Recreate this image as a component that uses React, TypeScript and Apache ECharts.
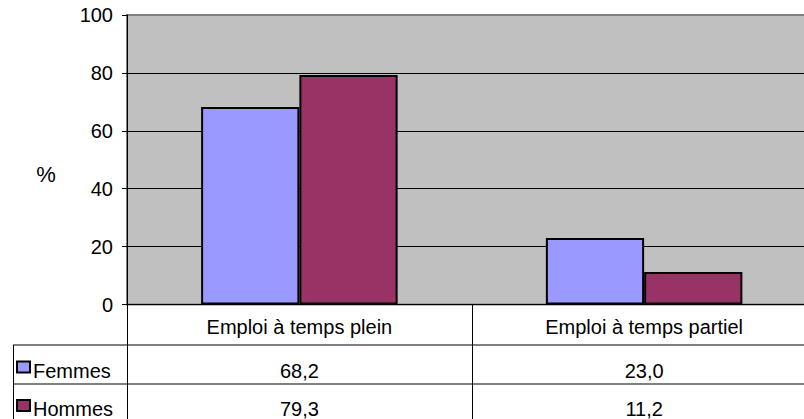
import React, { useEffect, useRef } from "react";
import * as echarts from "echarts";

const categories = ["Emploi à temps plein", "Emploi à temps partiel"];
const seriesNames = ["Femmes", "Hommes"];
const femmes = [68.2, 23.0];
const hommes = [79.3, 11.2];
const seriesColors = ["#9999ff", "#993366"];
const yTicks = { min: 0, max: 100, interval: 20 };
const yUnit = "%";

const FONT = "'Liberation Sans', Arial, sans-serif";
const FS = 20;
const fmt = (v: number) => v.toFixed(1).replace(".", ",");

export default function App() {
  const ref = useRef<HTMLDivElement>(null);
  useEffect(() => {
    document.body.style.margin = "0";
    document.body.style.overflow = "hidden";
    const chart = echarts.init(ref.current!, null, { renderer: "svg" });
    const gridLeft = 127;
    const gridTop = 15;
    const gridBottom = 304.5;
    const gridWidth = 689.5;
    const option: any = {
      animation: false,
      grid: {
        left: gridLeft,
        top: gridTop,
        width: gridWidth,
        height: gridBottom - gridTop,
        show: true,
        backgroundColor: "#c0c0c0",
        borderColor: "#808080",
        borderWidth: 2,
      },
      xAxis: {
        type: "category",
        data: categories,
        axisLine: { show: true, lineStyle: { color: "#000", width: 1 } },
        axisTick: { show: true, length: 115, lineStyle: { color: "#000", width: 1 } },
        axisLabel: { color: "#000", fontSize: FS, fontFamily: FONT, margin: 12 },
      },
      yAxis: {
        type: "value",
        min: yTicks.min,
        max: yTicks.max,
        interval: yTicks.interval,
        axisLine: { show: true, lineStyle: { color: "#000", width: 1 } },
        axisTick: { show: true, length: 5, lineStyle: { color: "#000" } },
        axisLabel: { color: "#000", fontSize: FS, fontFamily: FONT, margin: 14 },
        splitLine: {
          show: true,
          lineStyle: { color: ["#000", "#000", "#000", "#000", "#000", "#808080"], width: 1 },
        },
      },
      series: [
        {
          name: seriesNames[0],
          type: "bar",
          data: femmes,
          barGap: "0%",
          barCategoryGap: "43%",
          itemStyle: { color: seriesColors[0], borderColor: "#000", borderWidth: 2 },
        },
        {
          name: seriesNames[1],
          type: "bar",
          data: hommes,
          barGap: "0%",
          barCategoryGap: "43%",
          itemStyle: { color: seriesColors[1], borderColor: "#000", borderWidth: 2 },
        },
      ],
    };
    chart.setOption(option);

    const rowTops = [345, 384];
    const rowCenters = [370.5, 409];
    const squareCenters = [367, 405.5];
    const values = [femmes, hommes];
    const right = gridLeft + gridWidth;
    const elements: any[] = [
      {
        type: "text",
        x: 46,
        y: 174,
        style: { text: yUnit, font: `22px ${FONT}`, fill: "#000", align: "center", verticalAlign: "middle" },
      },
      { type: "line", shape: { x1: 13, y1: rowTops[0], x2: right, y2: rowTops[0] }, style: { stroke: "#000", lineWidth: 1 } },
      { type: "line", shape: { x1: 13, y1: rowTops[1], x2: right, y2: rowTops[1] }, style: { stroke: "#808080", lineWidth: 2 } },
      { type: "line", shape: { x1: 13.5, y1: rowTops[0], x2: 13.5, y2: 419 }, style: { stroke: "#000", lineWidth: 1 } },
    ];
    seriesNames.forEach((name, r) => {
      elements.push({
        type: "rect",
        shape: { x: 17, y: squareCenters[r] - 5.5, width: 13, height: 11 },
        style: { fill: seriesColors[r], stroke: "#000", lineWidth: 2 },
      });
      elements.push({
        type: "text",
        x: 33,
        y: rowCenters[r],
        style: { text: name, font: `${FS}px ${FONT}`, fill: "#000", align: "left", verticalAlign: "middle" },
      });
      categories.forEach((_, c) => {
        const px = chart.convertToPixel({ xAxisIndex: 0 }, c) as number;
        elements.push({
          type: "text",
          x: px,
          y: rowCenters[r],
          style: { text: fmt(values[r][c]), font: `${FS}px ${FONT}`, fill: "#000", align: "center", verticalAlign: "middle" },
        });
      });
    });
    chart.setOption({ graphic: { elements } });
    return () => chart.dispose();
  }, []);
  return <div ref={ref} style={{ width: 817, height: 419 }} />;
}
